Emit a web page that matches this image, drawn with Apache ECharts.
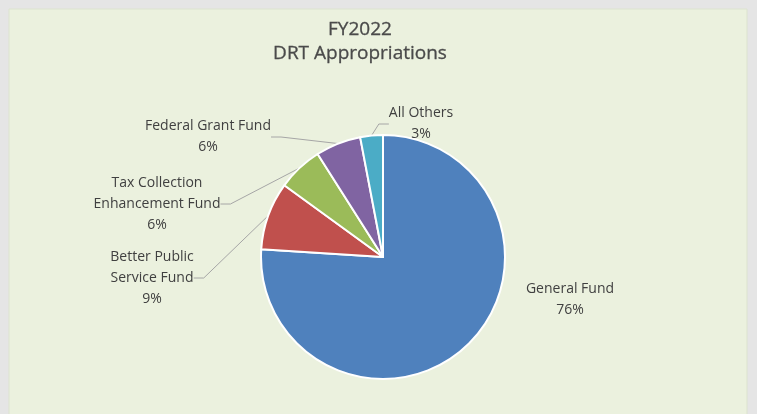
<!DOCTYPE html>
<html><head><meta charset="utf-8">
<script src="https://cdn.jsdelivr.net/npm/echarts@6/dist/echarts.min.js"></script>
<style>html,body{margin:0;padding:0;background:#E5E5E5}#c{width:757px;height:414px}</style>
</head><body><div id="c"></div>
<script>
const categories = ['General Fund', 'Better Public\nService Fund', 'Tax Collection\nEnhancement Fund', 'Federal Grant Fund', 'All Others'];
const values = [76, 9, 6, 6, 3];
const colors = ['#4F81BD', '#C0504D', '#9BBB59', '#8064A2', '#4BACC6'];
// label anchor positions (page px)
const labelPos = [[570, 300], [152, 278], [157, 204], [208, 137], [421, 124]];

const chart = echarts.init(document.getElementById('c'));
chart.setOption({
  backgroundColor: '#E5E5E5',
  animation: false,
  graphic: [{ type: 'rect', shape: { x: 9, y: 9, width: 738, height: 410 }, style: { fill: '#EBF1DE', stroke: '#DCE3CF', lineWidth: 1 }, z: -10 }],
  title: {
    text: 'FY2022\nDRT Appropriations',
    left: 355, top: 13, textAlign: 'center',
    textStyle: { fontFamily: 'Open Sans', fontSize: 19, fontWeight: 'normal', color: '#4A4A4A', lineHeight: 24,
      textBorderColor: '#4A4A4A', textBorderWidth: 0.3 }
  },
  series: [{
    type: 'pie',
    center: [383, 257],
    radius: 122,
    startAngle: 90,
    clockwise: true,
    itemStyle: { borderColor: '#ffffff', borderWidth: 2 },
    data: categories.map((n, i) => ({
      name: n, value: values[i],
      itemStyle: { color: colors[i] },
      labelLine: { show: i !== 0 }
    })),
    label: {
      show: true,
      formatter: p => p.name + '\n' + Math.round(p.percent) + '%',
      fontFamily: 'Open Sans', fontSize: 14, color: '#404040', lineHeight: 21,
      align: 'center'
    },
    labelLine: { show: true, length: 10, length2: 10, lineStyle: { color: '#A6A6A6', width: 1 } },
    labelLayout: function (p) {
      const pos = labelPos[p.dataIndex];
      return { x: pos[0], y: pos[1], align: 'center', verticalAlign: 'middle' };
    }
  }]
});
</script></body></html>
